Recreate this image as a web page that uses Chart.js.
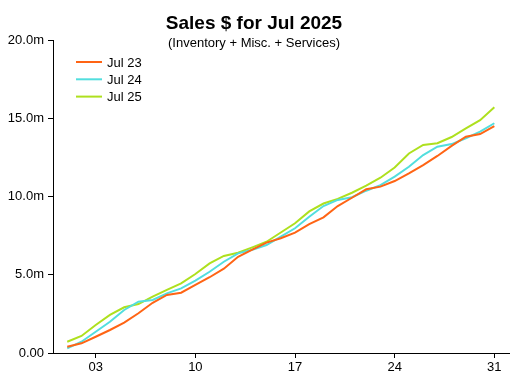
<!DOCTYPE html>
<html><head><meta charset="utf-8">
<script src="https://cdn.jsdelivr.net/npm/chart.js@4.4.1/dist/chart.umd.min.js"></script>
<style>html,body{margin:0;padding:0;background:#fff}#c{display:block}</style>
</head><body>
<canvas id="c" width="510" height="382"></canvas>
<script>
// ---- data (values in millions of $) ----
const days = [1,2,3,4,5,6,7,8,9,10,11,12,13,14,15,16,17,18,19,20,21,22,23,24,25,26,27,28,29,30,31];
const jul23 = [0.40,0.62,1.04,1.47,1.94,2.54,3.21,3.71,3.85,4.35,4.84,5.39,6.15,6.60,7.05,7.33,7.69,8.24,8.67,9.39,9.92,10.46,10.63,10.99,11.48,12.01,12.59,13.23,13.82,13.99,14.50];
const jul24 = [0.30,0.72,1.36,2.00,2.75,3.28,3.39,3.81,4.13,4.62,5.19,5.83,6.37,6.60,6.90,7.43,7.97,8.71,9.39,9.78,9.95,10.37,10.73,11.27,11.90,12.65,13.18,13.35,13.72,14.14,14.68];
const jul25 = [0.72,1.09,1.79,2.43,2.92,3.13,3.60,4.03,4.45,5.05,5.73,6.20,6.41,6.75,7.11,7.70,8.29,9.05,9.55,9.85,10.24,10.70,11.20,11.85,12.75,13.29,13.40,13.80,14.35,14.88,15.70];
const seriesLabels = ["Jul 23","Jul 24","Jul 25"];
const seriesColors = ["#FF6414","#52DEDE","#AEE01E"];
const xTicks = [3,10,17,24,31];
const yTicks = [0,5,10,15,20];
const titleText = "Sales $ for Jul 2025";
const subtitleText = "(Inventory + Misc. + Services)";

const FONT = "'Liberation Sans', Arial, sans-serif";
const series = [jul23, jul24, jul25];

const headerPlugin = {
  id: 'header',
  afterDraw(chart) {
    const ctx = chart.ctx;
    ctx.save();
    ctx.fillStyle = '#000';
    ctx.textAlign = 'center';
    ctx.textBaseline = 'alphabetic';
    ctx.font = "bold 19px " + FONT;
    ctx.fillText(titleText, 254, 29);
    ctx.font = "13px " + FONT;
    ctx.fillText(subtitleText, 254, 47);
    // legend
    ctx.textAlign = 'left';
    ctx.textBaseline = 'middle';
    chart.data.datasets.forEach((ds, i) => {
      const y = 62 + i * 17.3;
      ctx.strokeStyle = ds.borderColor;
      ctx.lineWidth = 2;
      ctx.beginPath();
      ctx.moveTo(76, y);
      ctx.lineTo(102, y);
      ctx.stroke();
      ctx.fillStyle = '#000';
      ctx.font = "13px " + FONT;
      ctx.fillText(ds.label, 107, y + 1);
    });
    ctx.restore();
  }
};

new Chart(document.getElementById('c'), {
  type: 'line',
  data: {
    datasets: series.map((s, i) => ({
      label: seriesLabels[i],
      data: s.map((v, j) => ({x: days[j], y: v})),
      borderColor: seriesColors[i],
      backgroundColor: seriesColors[i],
      borderWidth: 2,
      pointRadius: 0,
      tension: 0,
      fill: false
    }))
  },
  options: {
    responsive: false,
    animation: false,
    devicePixelRatio: 1,
    layout: { padding: { top: 40, right: 0, left: 0, bottom: 0 } },
    plugins: { legend: { display: false }, tooltip: { enabled: false }, title: { display: false } },
    scales: {
      x: {
        type: 'linear', min: 0, max: 32.1,
        afterBuildTicks: s => { s.ticks = xTicks.map(v => ({value: v})); },
        afterFit: s => { s.height = 29; },
        grid: { drawOnChartArea: false, drawTicks: true, tickLength: 5, color: '#000' },
        border: { display: true, color: '#000', width: 1 },
        ticks: { color: '#000', font: { family: FONT, size: 13 }, padding: 2, maxRotation: 0,
          callback: v => String(v).padStart(2, '0') }
      },
      y: {
        min: 0, max: 20,
        afterBuildTicks: s => { s.ticks = yTicks.map(v => ({value: v})); },
        afterFit: s => { s.width = 53; },
        grid: { drawOnChartArea: false, drawTicks: true, tickLength: 5, color: '#000' },
        border: { display: true, color: '#000', width: 1 },
        ticks: { color: '#000', font: { family: FONT, size: 13 }, padding: 4,
          callback: v => v === 0 ? '0.00' : v.toFixed(1) + 'm' }
      }
    }
  },
  plugins: [headerPlugin]
});
</script>
</body></html>
